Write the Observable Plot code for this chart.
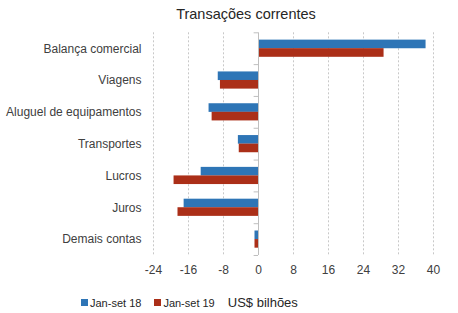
<!DOCTYPE html>
<html><head><meta charset="utf-8">
<script src="https://cdn.jsdelivr.net/npm/d3@7"></script>
<script src="https://cdn.jsdelivr.net/npm/@observablehq/plot@0.6"></script>
<style>
body{margin:0;background:#fff;font-family:"Liberation Sans",Arial,sans-serif;}
#wrap{position:relative;width:458px;height:313px;overflow:hidden;}
#title{position:absolute;top:6px;left:146px;width:200px;text-align:center;font-size:14.5px;color:#262626;}
#chart{position:absolute;top:0;left:0;}
#legend{position:absolute;top:295px;left:81px;font-size:11px;color:#262626;white-space:nowrap;}
#legend span{display:inline-block;vertical-align:middle;}
.sw{width:7px;height:7px;margin-right:2px;}
</style></head>
<body>
<div id="wrap">
<div id="chart"></div>
<div id="title">Transações correntes</div>
<div id="legend"></div>
</div>
<script>
const categories = ["Balança comercial","Viagens","Aluguel de equipamentos","Transportes","Lucros","Juros","Demais contas"];
const series = ["Jan-set 18","Jan-set 19"];
const jan18 = [38.3, -9.2, -11.3, -4.6, -13.1, -17.0, -0.8];
const jan19 = [28.7, -8.7, -10.6, -4.4, -19.3, -18.4, -0.8];
const xTicks = [-24,-16,-8,0,8,16,24,32,40];
const colors = ["#2e75b6","#ab2f18"];
const unit = "US$ bilhões";

const d18 = categories.map((c,i)=>({cat:c, v:jan18[i]}));
const d19 = categories.map((c,i)=>({cat:c, v:jan19[i]}));
const half = 8.55;

const plot = Plot.plot({
  width: 458, height: 290,
  marginTop: 32.3, marginBottom: 35, marginLeft: 153, marginRight: 25,
  style: {fontFamily: '"Liberation Sans", Arial, sans-serif', fontSize: "12px", color: "#404040", background: "transparent"},
  x: {domain: [-24, 40], ticks: xTicks, tickSize: 0, tickPadding: 10, label: null, tickFormat: d => String(d)},
  y: {domain: categories, paddingInner: 0.46, paddingOuter: 0.23, round: false, tickSize: 0, tickPadding: 12, label: null},
  marks: [
    Plot.gridX(xTicks.filter(t=>t!==0), {stroke: "#c8c8c8", strokeOpacity: 1, strokeDasharray: "2,2"}),
    Plot.barX(d18, {x: "v", y: "cat", fill: colors[0], insetBottom: half}),
    Plot.barX(d19, {x: "v", y: "cat", fill: colors[1], insetTop: half}),
    Plot.ruleX([0], {stroke: "#bfbfbf"}),
    Plot.ruleY(categories, {y: d=>d, x1: -1, x2: 0, dy: -15.9, stroke: "#bfbfbf"}),
    Plot.ruleY(categories.slice(-1), {y: d=>d, x1: -1, x2: 0, dy: 15.9, stroke: "#bfbfbf"})
  ]
});
document.getElementById("chart").appendChild(plot);

const lg = document.getElementById("legend");
series.forEach((s,i)=>{
  const sw = document.createElement("span"); sw.className="sw"; sw.style.background=colors[i];
  const t = document.createElement("span"); t.textContent=s; t.style.marginRight = "13px";
  lg.appendChild(sw); lg.appendChild(t);
});
const u = document.createElement("span"); u.textContent = unit; u.style.fontSize="13px";
lg.appendChild(u);
</script>
</body></html>
